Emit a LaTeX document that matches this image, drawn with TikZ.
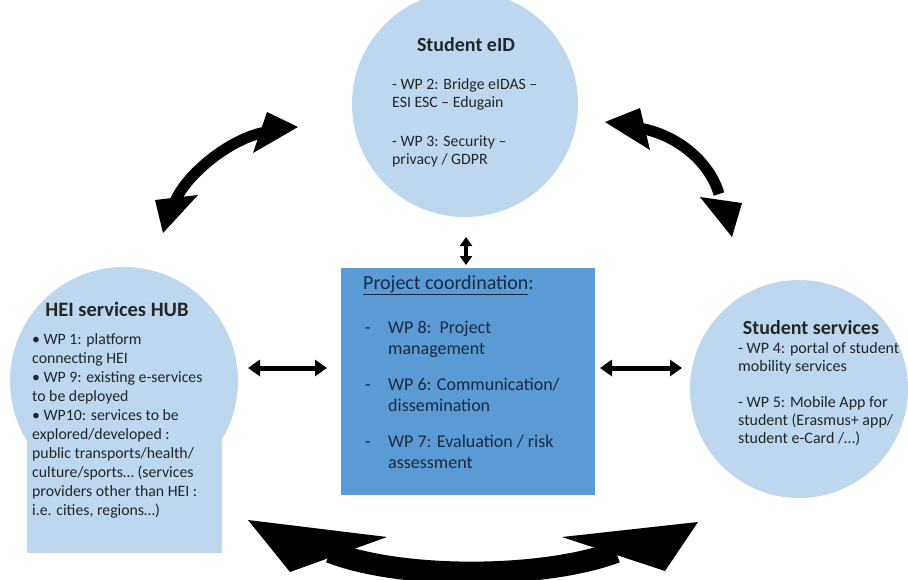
\documentclass[tikz,border=0pt]{standalone}
\usepackage{fontspec}
\setmainfont{Carlito}
\usetikzlibrary{arrows.meta}
\definecolor{lightblue}{HTML}{BDD7EE}
\definecolor{midblue}{HTML}{5B9BD5}
\definecolor{txt}{HTML}{262626}
\definecolor{navy}{HTML}{1B2A41}
\begin{document}
\begin{tikzpicture}[x=1pt,y=-1pt,
  bubble/.style={circle, fill=lightblue, inner sep=0pt},
  blockfill/.style={inner sep=0pt, anchor=north west},
  ttl/.style={font=\fontsize{20}{23}\selectfont\bfseries, text=txt, inner sep=0pt, anchor=base},
  bodytxt/.style={font=\fontsize{15.8}{18.9}\selectfont, text=txt, inner sep=0pt, align=left, anchor=base west},
  headfill/.style={fill=black},
  thinshaft/.style={draw=black, line width=11pt},
  thickshaft/.style={draw=black, line width=22pt},
  straight/.style={line width=5pt, {Triangle[length=12pt,width=16pt]}-{Triangle[length=12pt,width=16pt]}},
  smallstraight/.style={line width=4pt, {Triangle[length=9pt,width=12pt]}-{Triangle[length=9pt,width=12pt]}}
]
\useasboundingbox (0,0) rectangle (908,579);

% shapes
\node[bubble, minimum size=226pt] (eid) at (465,104) {};
\node[bubble, minimum size=228pt] (hub) at (124,381) {};
\node[blockfill, fill=lightblue, minimum width=195pt, minimum height=172pt] (hubbase) at (27,381) {};
\node[blockfill, fill=midblue, minimum width=254pt, minimum height=227pt] (coord) at (341,268) {};
\node[bubble, minimum size=218pt] (svc) at (799,389) {};

% Student eID (body anchored at the baseline of its last line)
\node[ttl] (eidt) at (466,51) {Student eID};
\node[bodytxt, font=\fontsize{15.8}{18}\selectfont] (eidb) at (392,164) {- WP 2: Bridge eIDAS –\\ESI ESC – Edugain\\[21pt]- WP 3: Security –\\privacy / GDPR};

% HEI services HUB
\node[ttl, font=\fontsize{20.5}{23}\selectfont\bfseries] (hubt) at (117,316) {HEI services HUB};
\node[bodytxt] (hubb) at (32,515) {• WP 1: platform\\connecting HEI\\• WP 9: existing e-services\\to be deployed\\• WP10: services to be\\explored/developed :\\public transports/health/\\culture/sports… (services\\providers other than HEI :\\i.e. cities, regions…)};

% Project coordination
\node[bodytxt, text=navy, font=\fontsize{20}{23}\selectfont] (coordt) at (363,289) {\underline{Project coordination}:};
\node[bodytxt, text=navy, font=\fontsize{18}{21}\selectfont] (coordb) at (365,468.5) {\makebox[23pt][l]{-}WP 8:\ \ Project\\\hspace*{23pt}management\\[15pt]\makebox[23pt][l]{-}WP 6: Communication/\\\hspace*{23pt}dissemination\\[15pt]\makebox[23pt][l]{-}WP 7: Evaluation / risk\\\hspace*{23pt}assessment};

% Student services
\node[ttl, font=\fontsize{20}{23}\selectfont\bfseries] (svct) at (811,334) {Student services};
\node[bodytxt, font=\fontsize{16}{18}\selectfont] (svcb) at (738,443.5) {- WP 4: portal of student\\mobility services\\[18pt]- WP 5: Mobile App for\\student (Erasmus+ app/\\student e-Card /…)};

% straight double arrows
\coordinate (la1) at (248,368);
\coordinate (la2) at (327,368);
\coordinate (ra1) at (600,368);
\coordinate (ra2) at (682,368);
\coordinate (va1) at (466,237);
\coordinate (va2) at (466,265);
\draw[straight] (la1) -- (la2);
\draw[straight] (ra1) -- (ra2);
\draw[smallstraight] (va1) -- (va2);

% top-left curved arrow
\coordinate (tlA) at (163,233);
\coordinate (tlA1) at (155,200);
\coordinate (tlA2) at (198,195);
\coordinate (tlB) at (298,127);
\coordinate (tlB1) at (267,112);
\coordinate (tlB2) at (253,153);
\coordinate (tlS) at (174,204);
\coordinate (tlE) at (266,132);
\draw[thinshaft] (tlS) .. controls (184,176) and (230,138) .. (tlE);
\fill[headfill] (tlA) -- (tlA1) -- (tlA2) -- cycle;
\fill[headfill] (tlB) -- (tlB1) -- (tlB2) -- cycle;

% top-right curved arrow
\coordinate (trA) at (605,122);
\coordinate (trA1) at (640,108);
\coordinate (trA2) at (650,150);
\coordinate (trB) at (732,237);
\coordinate (trB1) at (700,197);
\coordinate (trB2) at (742,203);
\coordinate (trS) at (639,128);
\coordinate (trE) at (719,194);
\draw[thinshaft] (trS) .. controls (675,134) and (709,160) .. (trE);
\fill[headfill] (trA) -- (trA1) -- (trA2) -- cycle;
\fill[headfill] (trB) -- (trB1) -- (trB2) -- cycle;

% bottom curved arrow
\coordinate (bA) at (248,520);
\coordinate (bA1) at (387,537);
\coordinate (bA2) at (290,572);
\coordinate (bB) at (698,522);
\coordinate (bB1) at (562,537);
\coordinate (bB2) at (665,571);
\coordinate (bS) at (330,552);
\coordinate (bE) at (616,552);
\draw[thickshaft] (bS) .. controls (402,580) and (544,579) .. (bE);
\fill[headfill] (bA) -- (bA1) -- (bA2) -- cycle;
\fill[headfill] (bB) -- (bB1) -- (bB2) -- cycle;
\end{tikzpicture}
\end{document}
